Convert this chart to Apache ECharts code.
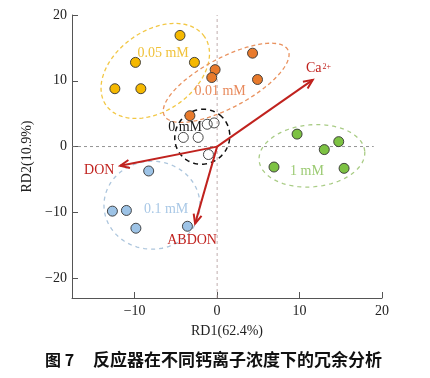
<!DOCTYPE html>
<html>
<head>
<meta charset="utf-8">
<script src="https://cdn.jsdelivr.net/npm/echarts@6/dist/echarts.min.js"></script>
<style>
html,body{margin:0;padding:0;background:#fff;}
#chart{width:430px;height:378px;}
</style>
</head>
<body>
<div id="chart"></div>
<script>
// ---- data ----
const xTicks = [-10, 0, 10, 20];
const yTicks = [-20, -10, 0, 10, 20];

const group005X = [-4.5, -9.9, -2.75, -12.4, -9.25];
const group005Y = [16.9, 12.8, 12.8, 8.8, 8.8];

const group001X = [-0.24, -0.65, -3.3, 4.3, 4.9];
const group001Y = [11.7, 10.5, 4.7, 14.2, 10.2];

const group0X = [-4.1, -2.3, -1.2, -0.36, -1.05];
const group0Y = [1.4, 1.4, 3.4, 3.6, -1.2];

const group01X = [-8.3, -12.7, -11.0, -9.85, -3.6];
const group01Y = [-3.7, -9.8, -9.7, -12.4, -12.1];

const group1X = [9.7, 14.75, 13.0, 6.9, 15.4];
const group1Y = [1.9, 0.76, -0.45, -3.1, -3.3];

const arrowNames = ['Ca', 'DON', 'ABDON'];
const arrowX = [11.6, -11.75, -2.67];
const arrowY = [10.15, -2.9, -11.7];

// ---- annotations (ellipses & group labels) ----
const ellipses = [
  {c: [-7.5, 11.5], rx: 60, ry: 40, a: 35, color: '#F2C744', dash: [4, 3], w: 1.3},
  {c: [1.1, 9.7], rx: 70, ry: 25, a: 28, color: '#E9925F', dash: [4, 3], w: 1.3},
  {c: [-1.8, 1.5], rx: 28, ry: 27, a: 45, color: '#111111', dash: [5, 4], w: 1.5},
  {c: [-7.9, -8.9], rx: 48, ry: 44, a: 0, color: '#ADC6DD', dash: [4, 4], w: 1.3},
  {c: [11.5, -1.4], rx: 53, ry: 31, a: 5, color: '#A9CC85', dash: [4, 4], w: 1.3}
];
const groupLabels = [
  {t: '0.05 mM', p: [-6.55, 14.24], color: '#F0C23A'},
  {t: '0.01 mM', p: [0.36, 8.33], color: '#E88A5C'},
  {t: '0 mM', p: [-3.88, 2.88], color: '#1a1a1a'},
  {t: '0.1 mM', p: [-6.18, -9.55], color: '#A9C8E6'},
  {t: '1 mM', p: [10.9, -3.79], color: '#9CCB73'}
];

const zip = (xs, ys) => xs.map((x, i) => [x, ys[i]]);
const serif = '"Liberation Serif","Times New Roman",serif';
const arrowColor = '#C0221E';

function scatter(name, xs, ys, fill) {
  return {
    type: 'scatter', name: name, data: zip(xs, ys), symbolSize: 10, z: 5,
    itemStyle: {color: fill, borderColor: '#333', borderWidth: 0.9, opacity: 1}
  };
}

const chart = echarts.init(document.getElementById('chart'), null, {renderer: 'canvas'});

const option = {
  animation: false,
  grid: {left: 72, right: 48, top: 15, bottom: 80},
  xAxis: {
    type: 'value', min: -17.6, max: 20,
    name: 'RD1(62.4%)', nameLocation: 'middle', nameGap: 26,
    nameTextStyle: {fontFamily: serif, fontSize: 14, color: '#222'},
    axisLine: {onZero: false, lineStyle: {color: '#555', width: 1}},
    axisTick: {inside: true, length: 6, lineStyle: {color: '#555'}, customValues: xTicks},
    axisLabel: {fontFamily: serif, fontSize: 14, color: '#222', margin: 6, customValues: xTicks,
      formatter: v => v < 0 ? '\u2212' + Math.abs(v) : String(v)},
    splitLine: {show: false}
  },
  yAxis: {
    type: 'value', min: -23, max: 20,
    name: 'RD2(10.9%)', nameLocation: 'middle', nameGap: 27, nameRotate: 90,
    nameTextStyle: {fontFamily: serif, fontSize: 14, color: '#222'},
    axisLine: {onZero: false, lineStyle: {color: '#555', width: 1}},
    axisTick: {inside: true, length: 6, lineStyle: {color: '#555'}, customValues: yTicks},
    axisLabel: {fontFamily: serif, fontSize: 14, color: '#222', margin: 5, customValues: yTicks,
      formatter: v => v < 0 ? '\u2212' + Math.abs(v) : String(v)},
    splitLine: {show: false}
  },
  series: [
    {type: 'line', data: [[-17.6, 0], [19, 0]], symbol: 'none', silent: true, z: 1,
      lineStyle: {color: '#7a7a7a', width: 0.8, type: [3, 3]}},
    {type: 'line', data: [[0, -23], [0, 20]], symbol: 'none', silent: true, z: 1,
      lineStyle: {color: '#b09a9a', width: 0.8, type: [3, 3]}},
    {
      type: 'custom', z: 2, silent: true,
      data: ellipses.map((e, i) => [e.c[0], e.c[1], i]),
      renderItem: function (params, api) {
        const e = ellipses[api.value(2)];
        const c = api.coord([api.value(0), api.value(1)]);
        const a = e.a * Math.PI / 180;
        const pts = [];
        for (let k = 0; k <= 120; k++) {
          const t = k / 120 * Math.PI * 2;
          const ux = e.rx * Math.cos(t), uy = e.ry * Math.sin(t);
          pts.push([c[0] + ux * Math.cos(a) - uy * Math.sin(a), c[1] - (ux * Math.sin(a) + uy * Math.cos(a))]);
        }
        return {type: 'polyline', shape: {points: pts},
          style: {fill: null, stroke: e.color, lineWidth: e.w, lineDash: e.dash}};
      }
    },
    scatter('0.05 mM', group005X, group005Y, '#F5B800'),
    scatter('0.01 mM', group001X, group001Y, '#E87A2C'),
    scatter('0 mM', group0X, group0Y, 'rgba(255,255,255,0)'),
    scatter('0.1 mM', group01X, group01Y, '#9DC3E6'),
    scatter('1 mM', group1X, group1Y, '#7DC243'),
    {
      type: 'custom', z: 6, silent: true,
      data: arrowNames.map((n, i) => [arrowX[i], arrowY[i], i]),
      renderItem: function (params, api) {
        const i = api.value(2);
        const s = api.coord([0, 0]);
        const e = api.coord([api.value(0), api.value(1)]);
        const ang = Math.atan2(e[1] - s[1], e[0] - s[0]);
        const L = 10, h = 0.42;
        const p1 = [e[0] - L * Math.cos(ang - h), e[1] - L * Math.sin(ang - h)];
        const p2 = [e[0] - L * Math.cos(ang + h), e[1] - L * Math.sin(ang + h)];
        const children = [
          {type: 'line', shape: {x1: s[0], y1: s[1], x2: e[0], y2: e[1]}, style: {stroke: arrowColor, lineWidth: 2}},
          {type: 'polyline', shape: {points: [p1, e, p2]}, style: {fill: null, stroke: arrowColor, lineWidth: 2}}
        ];
        const font = '14px ' + serif;
        if (i === 0) {
          children.push({type: 'text', x: e[0] + 1, y: e[1] - 11, style: {text: 'Ca', font: font, fill: arrowColor, align: 'center', verticalAlign: 'middle'}});
          children.push({type: 'text', x: e[0] + 14, y: e[1] - 13, style: {text: '2+', font: '8px ' + serif, fill: arrowColor, align: 'center', verticalAlign: 'middle'}});
        } else if (i === 1) {
          children.push({type: 'text', x: e[0] - 21, y: e[1] + 5, style: {text: arrowNames[i], font: font, fill: arrowColor, align: 'center', verticalAlign: 'middle'}});
        } else {
          children.push({type: 'text', x: e[0] - 3, y: e[1] + 17, style: {text: arrowNames[i], font: font, fill: arrowColor, align: 'center', verticalAlign: 'middle'}});
        }
        return {type: 'group', children: children};
      }
    },
    {
      type: 'custom', z: 7, silent: true,
      data: groupLabels.map((g, i) => [g.p[0], g.p[1], i]),
      renderItem: function (params, api) {
        const g = groupLabels[api.value(2)];
        const c = api.coord([api.value(0), api.value(1)]);
        return {type: 'text', x: c[0], y: c[1],
          style: {text: g.t, font: '14px ' + serif, fill: g.color, align: 'center', verticalAlign: 'middle'}};
      }
    }
  ],
  graphic: [
    {type: 'text', left: 45, top: 352, style: {text: '图 7', font: 'bold 16px "Noto Sans CJK SC", sans-serif', fill: '#111'}},
    {type: 'text', left: 93, top: 351, style: {text: '反应器在不同钙离子浓度下的冗余分析', font: 'bold 17px "Noto Sans CJK SC", sans-serif', fill: '#111'}}
  ]
};
chart.setOption(option);
</script>
</body>
</html>
